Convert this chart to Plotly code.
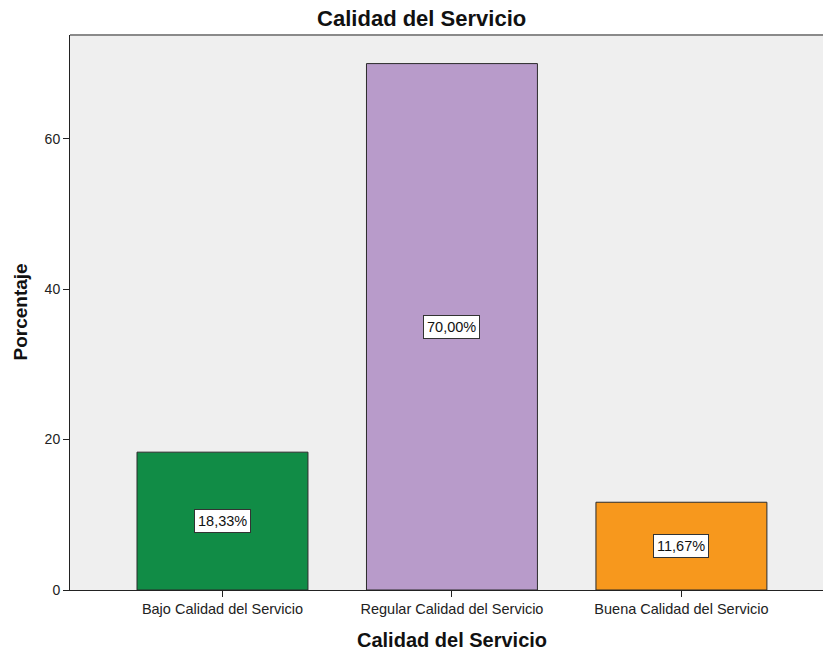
import plotly.graph_objects as go

categories = ["Bajo Calidad del Servicio", "Regular Calidad del Servicio", "Buena Calidad del Servicio"]
percentages = [18.33, 70.00, 11.67]
bar_colors = ["#118C46", "#B89BCA", "#F7981D"]
y_ticks = [0, 20, 40, 60]

positions = list(range(len(categories)))
labels = [f"{v:.2f}".replace(".", ",") + "%" for v in percentages]

FONT = "Liberation Sans, Arial"
W, H = 823, 657
L, R, T, B = 70, 0, 35, 67

fig = go.Figure()
fig.add_trace(go.Bar(
    x=positions,
    y=percentages,
    width=0.745,
    marker=dict(color=bar_colors, line=dict(color="#2b2b2b", width=1)),
    hoverinfo="skip",
))

# value boxes centred in each bar
for xi, v, lab in zip(positions, percentages, labels):
    fig.add_annotation(
        x=xi, y=v / 2, text=lab, showarrow=False,
        font=dict(family=FONT, size=14.5, color="#111"),
        bgcolor="white", bordercolor="#333", borderwidth=1, borderpad=3,
    )

# x axis title
fig.add_annotation(
    xref="x", yref="paper", x=1, y=0, yshift=-(640 - (H - B)), yanchor="middle",
    text="<b>Calidad del Servicio</b>", showarrow=False,
    font=dict(family=FONT, size=20, color="#111"),
)

# y axis title
fig.add_annotation(
    xref="paper", yref="paper", x=(20 - L) / (W - L - R), y=0.5,
    xanchor="center", yanchor="middle", textangle=-90,
    text="<b>Porcentaje</b>", showarrow=False,
    font=dict(family=FONT, size=19, color="#111"),
)

# top frame line
fig.add_shape(type="line", xref="paper", yref="paper", x0=0, x1=1, y0=1, y1=1,
              line=dict(color="#8a8a8a", width=2))

fig.update_layout(
    width=W, height=H,
    margin=dict(l=L, r=R, t=T, b=B),
    paper_bgcolor="white",
    plot_bgcolor="#EFEFEF",
    showlegend=False,
    title=dict(text="<b>Calidad del Servicio</b>", x=0.467, xref="paper",
               y=1 - 18 / H, yref="container", yanchor="middle",
               font=dict(family=FONT, size=22, color="#111")),
    font=dict(family=FONT, size=14, color="#222"),
)

fig.update_xaxes(
    range=[-0.6645, 2.617],
    tickvals=positions, ticktext=categories,
    ticks="outside", ticklen=6, tickcolor="#222", tickwidth=1,
    showline=True, linecolor="#222", linewidth=1,
    showgrid=False, zeroline=False,
    tickfont=dict(size=14.5, color="#222"),
)
fig.update_yaxes(
    range=[0, 73.8],
    tickvals=y_ticks,
    ticks="outside", ticklen=6, tickcolor="#222", tickwidth=1,
    showline=True, linecolor="#222", linewidth=1,
    showgrid=False, zeroline=False,
    tickfont=dict(size=14, color="#222"),
)

fig.write_html("out.html")
